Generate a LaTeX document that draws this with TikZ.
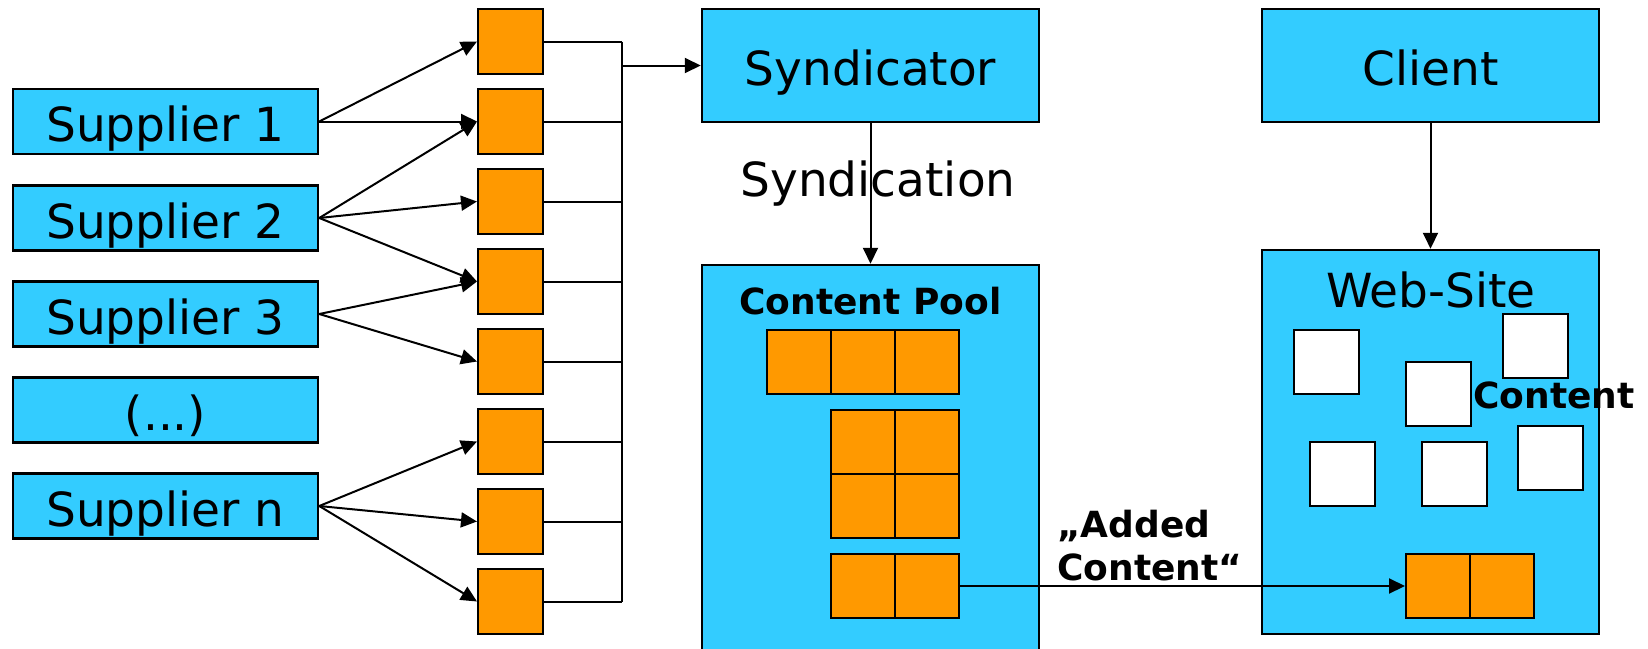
\documentclass[tikz,border=0pt]{standalone}
\usepackage{fontspec}
\setmainfont{DejaVu Sans}
\usetikzlibrary{arrows.meta}
\definecolor{skyfill}{HTML}{33CCFF}
\definecolor{orangefill}{HTML}{FF9900}

\begin{document}
\begin{tikzpicture}[x=1pt,y=-1pt,
  bluebox/.style={draw=black, line width=2.5pt, fill=skyfill, inner sep=0pt,
    font=\fontsize{47}{56}\selectfont, text height=40pt, text depth=0pt},
  cell/.style={draw=black, line width=2pt, fill=orangefill,
    minimum width=65pt, minimum height=65pt, inner sep=0pt},
  poolcell/.style={draw=black, line width=2pt, fill=orangefill,
    minimum width=64pt, minimum height=64pt, inner sep=0pt},
  page/.style={draw=black, line width=2pt, fill=white,
    minimum width=65pt, minimum height=64pt, inner sep=0pt},
  link/.style={line width=2pt},
  feed/.style={line width=2pt, -{Triangle[length=16pt,width=15pt]}},
  boldlabel/.style={font=\bfseries\fontsize{36}{43}\selectfont, inner sep=0pt},
  plainlabel/.style={font=\fontsize{47}{56}\selectfont, inner sep=0pt}
]
\useasboundingbox (0,0) rectangle (1648,648);
\begin{scope}
\clip (0,0) rectangle (1648,648);

% suppliers
\node[bluebox, minimum width=305pt, minimum height=65pt] (s1) at (165.5,121.5) {Supplier 1};
\node[bluebox, minimum width=305pt, minimum height=65pt] (s2) at (165.5,218) {Supplier 2};
\node[bluebox, minimum width=305pt, minimum height=65pt] (s3) at (165.5,314) {Supplier 3};
\node[bluebox, minimum width=305pt, minimum height=65pt] (sx) at (165.5,410) {(...)};
\node[bluebox, minimum width=305pt, minimum height=65pt] (sn) at (165.5,506) {Supplier n};

% delivered content items
\foreach \k in {1,...,8}
  \node[cell] (q\k) at (510.5,{41.5+80*(\k-1)}) {};

% supplier feeds
\draw[feed] (s1.east) -- (q1.west);
\draw[feed] (s1.east) -- (q2.west);
\draw[feed] (s2.east) -- (q2.west);
\draw[feed] (s2.east) -- (q3.west);
\draw[feed] (s2.east) -- (q4.west);
\draw[feed] (s3.east) -- (q4.west);
\draw[feed] (s3.east) -- (q5.west);
\draw[feed] (sn.east) -- (q6.west);
\draw[feed] (sn.east) -- (q7.west);
\draw[feed] (sn.east) -- (q8.west);

% syndicator and client
\node[bluebox, minimum width=337pt, minimum height=113pt] (synd) at (870.5,65.5) {Syndicator};
\node[bluebox, minimum width=337pt, minimum height=113pt] (client) at (1430.5,65.5) {Client};

% collecting bus
\coordinate (bustop) at (622,41.5);
\coordinate (busbot) at (622,601.5);
\foreach \k in {1,...,8}
  \draw[link] (q\k.east) -- (q\k.east -| bustop);
\draw[line width=2.5pt] (bustop) -- (busbot);
\draw[feed] (synd.west -| bustop) -- (synd.west);

% content pool
\node[bluebox, minimum width=337pt, minimum height=415pt] (pool) at (870.5,472.5) {};
\node[boldlabel, anchor=base] (pooltitle) at (870.5,314) {Content Pool};
\node[poolcell] (pa) at (799,362) {};
\node[poolcell] (pb) at (863,362) {};
\node[poolcell] (pc) at (927,362) {};
\node[poolcell] (pd) at (863,442) {};
\node[poolcell] (pe) at (927,442) {};
\node[poolcell] (pf) at (863,506) {};
\node[poolcell] (pg) at (927,506) {};
\node[poolcell] (ph) at (863,586) {};
\node[poolcell] (pi) at (927,586) {};

% syndication
\node[plainlabel, anchor=base] (synlabel) at (878,196) {Syndication};
\draw[feed] (synd.south) -- (pool.north);

% web site
\node[bluebox, minimum width=337pt, minimum height=384pt] (web) at (1430.5,442) {};
\node[plainlabel, anchor=base] (webtitle) at (1431,307) {Web-Site};
\draw[feed] (client.south) -- (web.north);
\node[page] (w1) at (1326.5,362) {};
\node[page] (w2) at (1438.5,394) {};
\node[page] (w3) at (1535,346) {};
\node[page] (w4) at (1342.5,474) {};
\node[page] (w5) at (1454.5,474) {};
\node[page] (w6) at (1550.5,458) {};
\node[boldlabel, anchor=base west] (contentlabel) at (1473,408) {Content};
\node[poolcell] (wa) at (1438,586) {};
\node[poolcell] (wb) at (1502,586) {};

% added content
\draw[feed] (pi.east) -- (wa.west);
\node[boldlabel, anchor=base west] (addedA) at (1057,537) {„Added};
\node[boldlabel, anchor=base west] (addedB) at (1057,580) {Content“};
\end{scope}
\end{tikzpicture}
\end{document}
